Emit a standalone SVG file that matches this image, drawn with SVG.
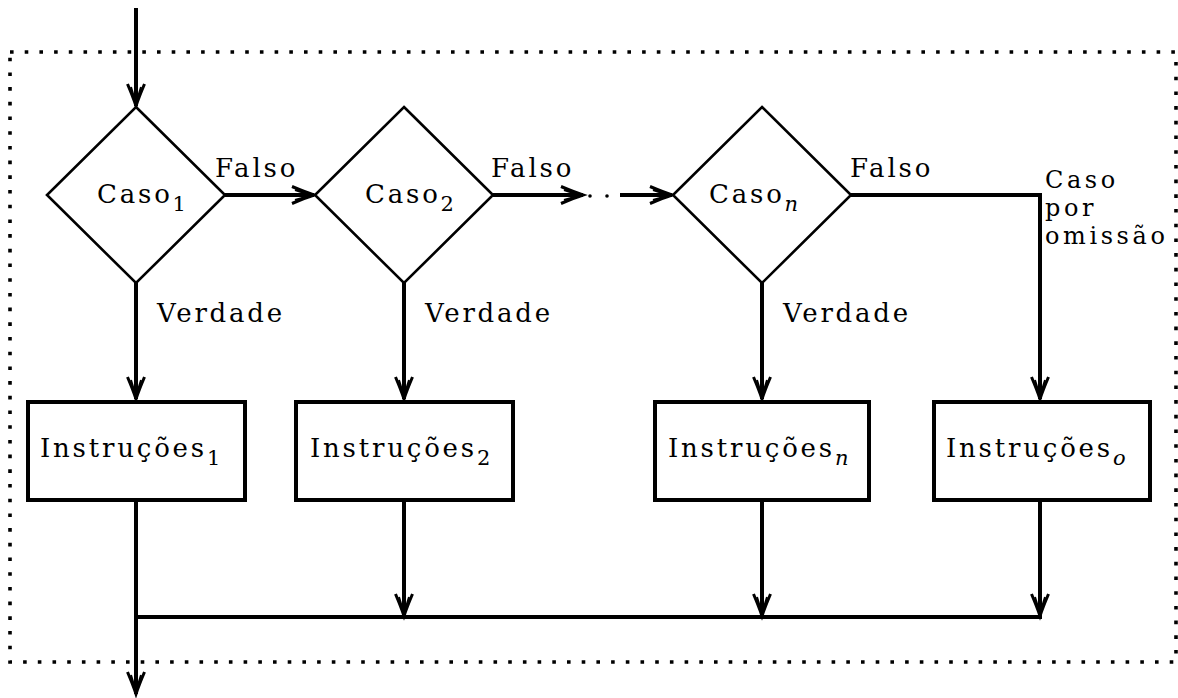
<svg xmlns="http://www.w3.org/2000/svg" width="1178" height="698" viewBox="0 0 1178 698">
  <style>
    .frame { fill: none; stroke: #000; stroke-width: 3.6; stroke-dasharray: 3.6 11.1; }
    .dia { fill: #fff; stroke: #000; stroke-width: 2.6; }
    .box { fill: #fff; stroke: #000; stroke-width: 4; }
    .wire { fill: none; stroke: #000; stroke-width: 4; }
    .arr { marker-end: url(#head); }
    text { font-family: "DejaVu Serif", "Liberation Serif", serif; font-size: 26px; letter-spacing: 2.8px; fill: #000; }
    .sub { font-size: 21px; }
    .it { font-style: italic; }
    .note { font-size: 24px; letter-spacing: 3.6px; }
  </style>
  <defs>
    <marker id="head" markerUnits="userSpaceOnUse" markerWidth="30" markerHeight="24" viewBox="-24 -12 30 24" refX="0" refY="0" orient="auto" overflow="visible">
      <path d="M -22 -8.5 Q -9 -3 0 0 Q -9 3 -22 8.5" fill="none" stroke="#000" stroke-width="3"/>
      <path d="M -19 -5 Q -8 -1.5 0 0 Q -8 1.5 -19 5" fill="none" stroke="#000" stroke-width="2"/>
    </marker>
  </defs>

  <!-- dotted enclosure -->
  <rect class="frame" x="10" y="52" width="1166" height="610"/>

  <!-- connectors -->
  <g id="connectors">
    <path class="wire arr" d="M 136 8 V 106"/>
    <path class="wire arr" d="M 225 195 H 314"/>
    <path class="wire arr" d="M 493 195 H 583"/>
    <circle cx="590" cy="196" r="1.8"/>
    <circle cx="607" cy="196" r="1.8"/>
    <path class="wire arr" d="M 620 195 H 672"/>
    <path class="wire arr" d="M 851 195 H 1040 V 399"/>
    <path class="wire arr" d="M 136 283 V 399"/>
    <path class="wire arr" d="M 404 283 V 399"/>
    <path class="wire arr" d="M 762 283 V 399"/>
    <path class="wire arr" d="M 136 500 V 694"/>
    <path class="wire arr" d="M 404 500 V 616"/>
    <path class="wire arr" d="M 762 500 V 616"/>
    <path class="wire arr" d="M 1040 500 V 616"/>
    <path class="wire" d="M 134 617 H 1042"/>
    <text x="215" y="177">Falso</text>
    <text x="491" y="177">Falso</text>
    <text x="850" y="177">Falso</text>
    <text x="157" y="322">Verdade</text>
    <text x="425" y="322">Verdade</text>
    <text x="783" y="322">Verdade</text>
    <text class="note" x="1045" y="188">Caso</text>
    <text class="note" x="1045" y="216">por</text>
    <text class="note" x="1045" y="244">omissão</text>
  </g>

  <!-- decisions -->
  <g id="caso1">
    <polygon class="dia" points="136,107 225,195 136,283 47,195"/>
    <text x="97" y="203">Caso<tspan class="sub" dy="8">1</tspan></text>
  </g>
  <g id="caso2">
    <polygon class="dia" points="404,107 493,195 404,283 315,195"/>
    <text x="365" y="203">Caso<tspan class="sub" dy="8">2</tspan></text>
  </g>
  <g id="cason">
    <polygon class="dia" points="762,107 851,195 762,283 673,195"/>
    <text x="709" y="203">Caso<tspan class="sub it" dy="8">n</tspan></text>
  </g>

  <!-- instruction blocks -->
  <g id="instr1">
    <rect class="box" x="28" y="402" width="217" height="98"/>
    <text x="40" y="457">Instruções<tspan class="sub" dy="8">1</tspan></text>
  </g>
  <g id="instr2">
    <rect class="box" x="296" y="402" width="217" height="98"/>
    <text x="310" y="457">Instruções<tspan class="sub" dy="8">2</tspan></text>
  </g>
  <g id="instrn">
    <rect class="box" x="655" y="402" width="214" height="98"/>
    <text x="668" y="457">Instruções<tspan class="sub it" dy="8">n</tspan></text>
  </g>
  <g id="instro">
    <rect class="box" x="934" y="402" width="216" height="98"/>
    <text x="946" y="457">Instruções<tspan class="sub it" dy="8">o</tspan></text>
  </g>
</svg>
